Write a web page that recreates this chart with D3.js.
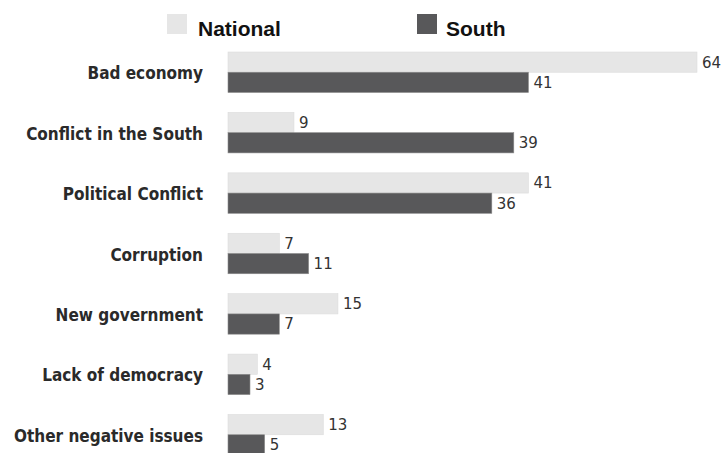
<!DOCTYPE html>
<html>
<head>
<meta charset="utf-8">
<script src="https://cdn.jsdelivr.net/npm/d3@7"></script>
<style>
  body { margin: 0; background: #fff; }
  .cat-label { font-family: "DejaVu Sans Condensed", "DejaVu Sans", sans-serif; font-stretch: condensed; font-weight: bold; font-size: 17px; fill: #2a2a2a; }
  .val-label { font-family: "DejaVu Sans", sans-serif; font-size: 15px; fill: #333; }
  .legend-text { font-family: "Liberation Sans", Arial, sans-serif; font-weight: bold; font-size: 21px; fill: #111; }
</style>
</head>
<body>
<div id="chart"></div>
<script>
var categories = ["Bad economy", "Conflict in the South", "Political Conflict", "Corruption",
                  "New government", "Lack of democracy", "Other negative issues"];
var seriesNames = ["National", "South"];
var nationalValues = [64, 9, 41, 7, 15, 4, 13];
var southValues = [41, 39, 36, 11, 7, 3, 5];

var width = 725, height = 453;
var colors = {"National": "#e6e6e6", "South": "#58585a"};

var svg = d3.select('#chart').append('svg')
    .attr('width', width)
    .attr('height', height);

var x = d3.scaleLinear()
    .domain([0, 64])
    .range([228, 697]);

var y = d3.scaleBand()
    .domain(categories)
    .range([52, 455])
    .paddingInner(0.33)
    .paddingOuter(0)
    .align(0);

var ySub = d3.scaleBand()
    .domain(seriesNames)
    .range([0, y.bandwidth()]);

var rows = categories.map(function(c, i) {
    return {cat: c, values: [
        {name: "National", value: nationalValues[i]},
        {name: "South", value: southValues[i]}
    ]};
});

var groups = svg.selectAll('.group')
    .data(rows)
    .enter().append('g')
    .attr('class', 'group')
    .attr('transform', d => 'translate(0,' + y(d.cat) + ')');

groups.selectAll('rect')
    .data(d => d.values)
    .enter().append('rect')
    .attr('x', x(0))
    .attr('y', d => ySub(d.name))
    .attr('width', d => x(d.value) - x(0))
    .attr('height', ySub.bandwidth())
    .attr('fill', d => colors[d.name])
    .attr('stroke', d => d.name === "South" ? "#8a8a8a" : "#dcdcdc")
    .attr('stroke-width', 0.6);

// value labels
groups.selectAll('.val-label')
    .data(d => d.values)
    .enter().append('text')
    .attr('class', 'val-label')
    .attr('x', d => x(d.value) + 5)
    .attr('y', d => ySub(d.name) + ySub.bandwidth() / 2)
    .attr('dy', '0.36em')
    .text(d => d.value);

// category labels
groups.append('text')
    .attr('class', 'cat-label')
    .attr('x', 203)
    .attr('y', y.bandwidth() / 2 + 1)
    .attr('dy', '0.36em')
    .attr('text-anchor', 'end')
    .text(d => d.cat);

// Legend
var legendX = d3.scaleOrdinal()
    .domain(seriesNames)
    .range([167, 417]);

var legend = svg.selectAll('.legend')
    .data(seriesNames)
    .enter().append('g')
    .attr('class', 'legend')
    .attr('transform', d => 'translate(' + legendX(d) + ',14)');

legend.append('rect')
    .attr('width', 20)
    .attr('height', 20)
    .attr('fill', d => colors[d]);

legend.append('text')
    .attr('class', 'legend-text')
    .attr('x', d => d === "National" ? 31 : 29)
    .attr('y', 22)
    .text(d => d);
</script>
</body>
</html>
